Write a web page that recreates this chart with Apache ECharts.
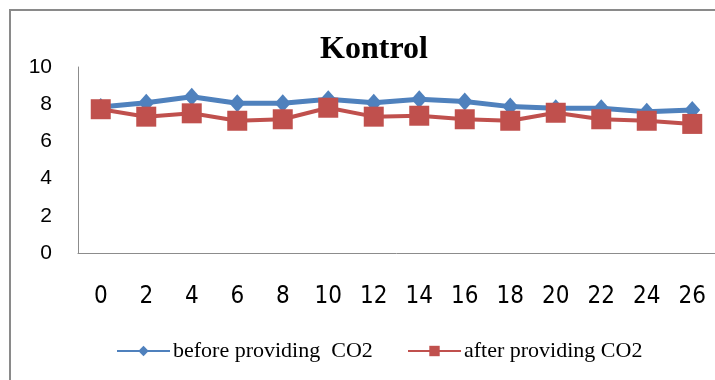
<!DOCTYPE html>
<html><head><meta charset="utf-8">
<script src="https://cdn.jsdelivr.net/npm/echarts@6/dist/echarts.min.js"></script>
<style>html,body{margin:0;padding:0;background:#fff}#c{width:715px;height:380px}</style>
</head><body><div id="c"></div>
<script>
const categories = ['0','2','4','6','8','10','12','14','16','18','20','22','24','26'];
const beforeCO2 = [7.85, 8.08, 8.4, 8.05, 8.05, 8.26, 8.08, 8.26, 8.14, 7.87, 7.78, 7.78, 7.6, 7.69];
const afterCO2  = [7.73, 7.33, 7.51, 7.11, 7.19, 7.81, 7.33, 7.38, 7.19, 7.11, 7.54, 7.19, 7.11, 6.94];
const seriesNames = ['before providing  CO2', 'after providing CO2'];
const titleText = 'Kontrol';

const legendText = {fontFamily: 'Liberation Serif', fontSize: 22, color: '#000', padding: [0,0,0,-2]};
const chart = echarts.init(document.getElementById('c'), null, {renderer:'canvas'});
chart.setOption({
  animation: false,
  backgroundColor: '#fff',
  title: {
    text: titleText, left: 369, top: 29, textAlign: 'center',
    textStyle: {fontFamily: 'Liberation Serif', fontWeight: 'bold', fontSize: 32, color: '#000'}
  },
  graphic: [{
    type: 'rect', shape: {x: 10, y: 10, width: 730, height: 400},
    style: {fill: 'none', stroke: '#8a8a8a', lineWidth: 2}, silent: true
  }],
  legend: [
    {left: 111, top: 335, itemWidth: 53, itemHeight: 13, textStyle: legendText, data: [seriesNames[0]]},
    {left: 402, top: 335, itemWidth: 53, itemHeight: 13, textStyle: legendText, data: [seriesNames[1]]}
  ],
  grid: {left: 78, top: 67, width: 646, height: 186, containLabel: false},
  xAxis: {
    type: 'category', data: categories, boundaryGap: true,
    axisLine: {lineStyle: {color: '#8c8c8c', width: 1}},
    axisTick: {show: false},
    axisLabel: {fontFamily: '"DejaVu Sans Condensed", "Liberation Sans", sans-serif', fontSize: 24, color: '#000', margin: 32}
  },
  yAxis: {
    type: 'value', min: 0, max: 10, interval: 2,
    axisLine: {show: true, lineStyle: {color: '#8c8c8c', width: 1}},
    axisTick: {show: false},
    splitLine: {show: false},
    axisLabel: {fontFamily: 'Liberation Sans', fontSize: 21, color: '#000', margin: 26}
  },
  series: [
    {name: seriesNames[0], type: 'line', data: beforeCO2, symbol: 'diamond', symbolSize: [16, 18],
     itemStyle: {color: '#4F81BD'}, lineStyle: {color: '#4F81BD', width: 5}, z: 2},
    {name: seriesNames[1], type: 'line', data: afterCO2, symbol: 'rect', symbolSize: 20,
     itemStyle: {color: '#C0504D'}, lineStyle: {color: '#C0504D', width: 4}, z: 3}
  ]
});
</script></body></html>
